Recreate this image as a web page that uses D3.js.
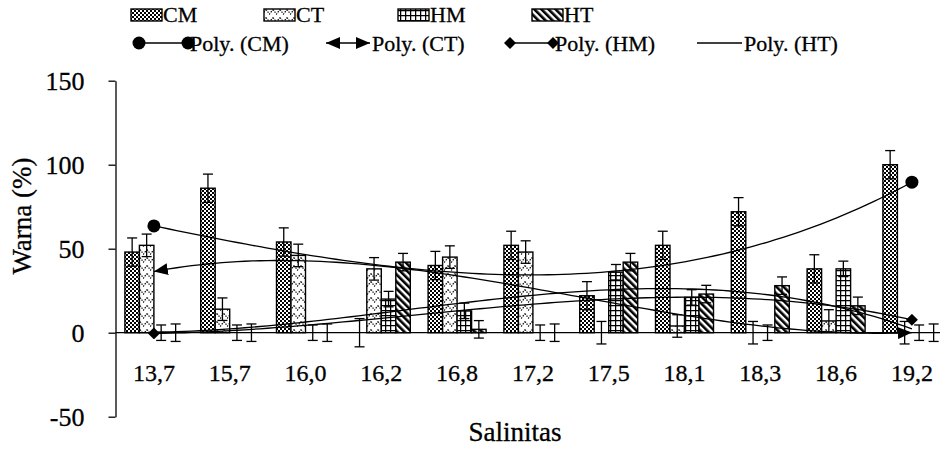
<!DOCTYPE html>
<html>

<head>
    <meta charset="utf-8">
    <title>Warna vs Salinitas</title>
    <style>
    body {
        margin: 0;
        background: #fff;
    }

    svg#chart text {
        font-family: "Liberation Serif", Tinos, "Times New Roman", "DejaVu Serif", serif;
        fill: #000;
        stroke: #000;
        stroke-width: 0.3;
    }

    svg#chart .axis path,
    svg#chart .axis line {
        stroke: #000;
        stroke-width: 1.3;
    }

    rect.bar {
        stroke: #000;
        stroke-width: 1.4;
    }

    path.trend {
        fill: none;
        stroke: #000;
        stroke-width: 1.3;
    }
    </style>
</head>

<body>
    <svg id="chart" width="940" height="450"></svg>
    <script src="https://d3js.org/d3.v7.min.js"></script>
    <script>
    // salinity classes on the x axis
    var categories = ["13,7", "15,7", "16,0", "16,2", "16,8", "17,2", "17,5", "18,1", "18,3", "18,6", "19,2"];

    // colour (%) per series
    var cm = [48, 86, 54, 0, 40, 52, 22, 52, 72, 38, 100];
    var ct = [52, 14, 46, 38, 45, 48, 0, 4, 0, 7, 0];
    var hm = [0, 0, 0, 20, 13, 0, 36, 21, 0, 38, 0];
    var ht = [0, 0, 0, 42, 2, 0, 42, 23, 28, 16, 0];

    // standard error bars (same value for the whole series)
    var cmErr = 8.4;
    var ctErr = 6.7;
    var hmErr = 4.6;
    var htErr = 5.2;

    var seriesNames = ["CM", "CT", "HM", "HT"];
    var yTicks = [-50, 0, 50, 100, 150];

    var series = [
        { name: "CM", values: cm, err: cmErr, fill: "url(#p-cm)", marker: "m-circle" },
        { name: "CT", values: ct, err: ctErr, fill: "url(#p-ct)", marker: "m-arrow" },
        { name: "HM", values: hm, err: hmErr, fill: "url(#p-hm)", marker: "m-diamond" },
        { name: "HT", values: ht, err: htErr, fill: "url(#p-ht)", marker: null }
    ];

    var svg = d3.select("svg#chart");
    var defs = svg.append("defs");

    // ---- fill patterns (excel style hatching) ----
    var p = defs.append("pattern").attr("id", "p-cm")
        .attr("patternUnits", "userSpaceOnUse").attr("width", 4).attr("height", 4);
    p.append("rect").attr("width", 4).attr("height", 4).attr("fill", "#fff");
    p.append("rect").attr("width", 2).attr("height", 2).attr("fill", "#000");
    p.append("rect").attr("x", 2).attr("y", 2).attr("width", 2).attr("height", 2).attr("fill", "#000");

    p = defs.append("pattern").attr("id", "p-ct")
        .attr("patternUnits", "userSpaceOnUse").attr("width", 7).attr("height", 8);
    p.append("rect").attr("width", 7).attr("height", 8).attr("fill", "#fff");
    p.append("path").attr("d", "M0,1.5 L3.5,6 L7,1.5")
        .attr("fill", "none").attr("stroke", "#000").attr("stroke-width", 1.2)
        .attr("stroke-dasharray", "1.4,1.2");

    p = defs.append("pattern").attr("id", "p-hm")
        .attr("patternUnits", "userSpaceOnUse").attr("width", 5).attr("height", 5);
    p.append("rect").attr("width", 5).attr("height", 5).attr("fill", "#fff");
    p.append("path").attr("d", "M0,0.6 H5 M0.6,0 V5")
        .attr("fill", "none").attr("stroke", "#000").attr("stroke-width", 1.3);

    p = defs.append("pattern").attr("id", "p-ht")
        .attr("patternUnits", "userSpaceOnUse").attr("width", 5).attr("height", 5)
        .attr("patternTransform", "rotate(-45)");
    p.append("rect").attr("width", 5).attr("height", 5).attr("fill", "#fff");
    p.append("rect").attr("width", 2.6).attr("height", 5).attr("fill", "#000");

    // ---- line end markers ----
    defs.append("marker").attr("id", "m-circle")
        .attr("viewBox", "-7 -7 14 14").attr("markerUnits", "userSpaceOnUse")
        .attr("markerWidth", 14).attr("markerHeight", 14)
        .attr("refX", 0).attr("refY", 0).attr("orient", "0")
        .append("circle").attr("r", 6.5).attr("fill", "#000");

    defs.append("marker").attr("id", "m-arrow")
        .attr("viewBox", "0 -6 14 12").attr("markerUnits", "userSpaceOnUse")
        .attr("markerWidth", 14).attr("markerHeight", 12)
        .attr("refX", 14).attr("refY", 0).attr("orient", "auto-start-reverse")
        .append("path").attr("d", "M0,-6 L14,0 L0,6 Z").attr("fill", "#000");

    defs.append("marker").attr("id", "m-diamond")
        .attr("viewBox", "-6 -6 12 12").attr("markerUnits", "userSpaceOnUse")
        .attr("markerWidth", 12).attr("markerHeight", 12)
        .attr("refX", 0).attr("refY", 0).attr("orient", "0")
        .append("path").attr("d", "M0,-6 L6,0 L0,6 L-6,0 Z").attr("fill", "#000");

    // ---- scales ----
    var x0 = d3.scaleBand().domain(categories).range([116, 949.8]);
    var x1 = d3.scaleBand().domain(seriesNames)
        .range([(x0.bandwidth() - 58) / 2, (x0.bandwidth() + 58) / 2]);
    var y = d3.scaleLinear().domain([-50, 150]).range([416.7, 80.7]);

    // x position of category number 1..n for the trend lines
    var xt = d3.scaleLinear().domain([1, categories.length])
        .range([x0(categories[0]) + x0.bandwidth() / 2,
            x0(categories[categories.length - 1]) + x0.bandwidth() / 2]);

    // least squares polynomial of order 3, like excel's trendline
    function polyFit(ys, order) {
        var n = order + 1, A = [], b = [], i, j, k;
        for (i = 0; i < n; i++) { A.push(d3.range(n).map(function() { return 0; })); b.push(0); }
        ys.forEach(function(v, idx) {
            var xv = idx + 1;
            for (i = 0; i < n; i++) {
                for (j = 0; j < n; j++) A[i][j] += Math.pow(xv, i + j);
                b[i] += v * Math.pow(xv, i);
            }
        });
        for (i = 0; i < n; i++) {
            var piv = i;
            for (k = i + 1; k < n; k++) if (Math.abs(A[k][i]) > Math.abs(A[piv][i])) piv = k;
            var t = A[i]; A[i] = A[piv]; A[piv] = t;
            t = b[i]; b[i] = b[piv]; b[piv] = t;
            for (k = i + 1; k < n; k++) {
                var f = A[k][i] / A[i][i];
                for (j = i; j < n; j++) A[k][j] -= f * A[i][j];
                b[k] -= f * b[i];
            }
        }
        var c = new Array(n);
        for (i = n - 1; i >= 0; i--) {
            var s = b[i];
            for (j = i + 1; j < n; j++) s -= A[i][j] * c[j];
            c[i] = s / A[i][i];
        }
        return function(xv) {
            return c.reduce(function(acc, ci, p) { return acc + ci * Math.pow(xv, p); }, 0);
        };
    }

    // ---- axes ----
    var yAxis = d3.axisLeft(y).tickValues(yTicks).tickSize(7).tickSizeOuter(0).tickPadding(24)
        .tickFormat(function(d) { return String(d); });
    svg.append("g")
        .attr("class", "axis axis--y")
        .attr("transform", "translate(115.5,0)")
        .call(yAxis)
        .attr("font-family", null)
        .call(function(g) { g.selectAll("text").attr("font-size", 26); });

    // ---- bars ----
    var groups = svg.append("g").attr("class", "bars")
        .selectAll("g")
        .data(series)
        .enter().append("g");

    groups.selectAll("rect")
        .data(function(s) { return s.values.map(function(v, i) { return { s: s, c: categories[i], v: v }; }); })
        .enter().append("rect")
        .attr("class", "bar")
        .attr("x", function(d) { return x0(d.c) + x1(d.s.name); })
        .attr("width", x1.bandwidth())
        .attr("y", function(d) { return y(Math.max(0, d.v)); })
        .attr("height", function(d) { return Math.abs(y(d.v) - y(0)); })
        .attr("fill", function(d) { return d.s.fill; })
        .style("display", function(d) { return d.v === 0 ? "none" : null; });

    // ---- error bars ----
    var eb = svg.append("g").attr("class", "errors")
        .attr("stroke", "#000").attr("stroke-width", 1.3)
        .selectAll("g")
        .data(d3.merge(series.map(function(s) {
            return s.values.map(function(v, i) { return { s: s, c: categories[i], v: v }; });
        })))
        .enter().append("g")
        .attr("transform", function(d) {
            return "translate(" + (x0(d.c) + x1(d.s.name) + x1.bandwidth() / 2) + ",0)";
        });
    eb.append("line")
        .attr("y1", function(d) { return y(d.v - d.s.err); })
        .attr("y2", function(d) { return y(d.v + d.s.err); });
    eb.append("line").attr("x1", -5).attr("x2", 5)
        .attr("y1", function(d) { return y(d.v + d.s.err); })
        .attr("y2", function(d) { return y(d.v + d.s.err); });
    eb.append("line").attr("x1", -5).attr("x2", 5)
        .attr("y1", function(d) { return y(d.v - d.s.err); })
        .attr("y2", function(d) { return y(d.v - d.s.err); });

    // ---- x axis through zero ----
    var xAxis = d3.axisBottom(x0).tickSize(0).tickSizeOuter(0).tickPadding(31);
    var gx = svg.append("g")
        .attr("class", "axis axis--x")
        .attr("transform", "translate(0," + y(0) + ")")
        .call(xAxis)
        .attr("font-family", null);
    gx.selectAll("text").attr("font-size", 24);
    gx.select("path.domain").attr("d", "M115.5,0H949.8");

    // ---- polynomial trend lines ----
    var line = d3.line()
        .x(function(d) { return xt(d[0]); })
        .y(function(d) { return y(d[1]); });

    series.forEach(function(s) {
        var f = polyFit(s.values, 3);
        var pts = d3.range(0, 101).map(function(i) {
            var xv = 1 + i * (categories.length - 1) / 100;
            return [xv, f(xv)];
        });
        var path = svg.append("path").attr("class", "trend").attr("d", line(pts));
        if (s.marker) {
            path.attr("marker-start", "url(#" + s.marker + ")")
                .attr("marker-end", "url(#" + s.marker + ")");
        }
    });

    // ---- legend ----
    var legend = svg.append("g").attr("class", "legend");
    var patchX = [131, 264, 398, 532];
    series.forEach(function(s, i) {
        legend.append("rect").attr("class", "bar")
            .attr("x", patchX[i]).attr("y", 9).attr("width", 31).attr("height", 12)
            .attr("fill", s.fill);
        legend.append("text").attr("x", patchX[i] + 32).attr("y", 22)
            .attr("font-size", 22).text(s.name);
    });
    var lineX = [[139, 188], [326, 370], [510, 553], [697, 742]];
    series.forEach(function(s, i) {
        var l = legend.append("path").attr("class", "trend")
            .attr("d", "M" + lineX[i][0] + ",43H" + lineX[i][1]);
        if (s.marker) {
            l.attr("marker-start", "url(#" + s.marker + ")")
                .attr("marker-end", "url(#" + s.marker + ")");
        }
        legend.append("text").attr("x", lineX[i][1] + 2).attr("y", 51)
            .attr("font-size", 22).text("Poly. (" + s.name + ")");
    });

    // ---- axis titles ----
    svg.append("text")
        .attr("transform", "translate(31,216) rotate(-90)")
        .attr("text-anchor", "middle")
        .attr("font-size", 27)
        .text("Warna (%)");

    svg.append("text")
        .attr("x", 515).attr("y", 441)
        .attr("text-anchor", "middle")
        .attr("font-size", 27)
        .text("Salinitas");
    </script>
</body>

</html>
